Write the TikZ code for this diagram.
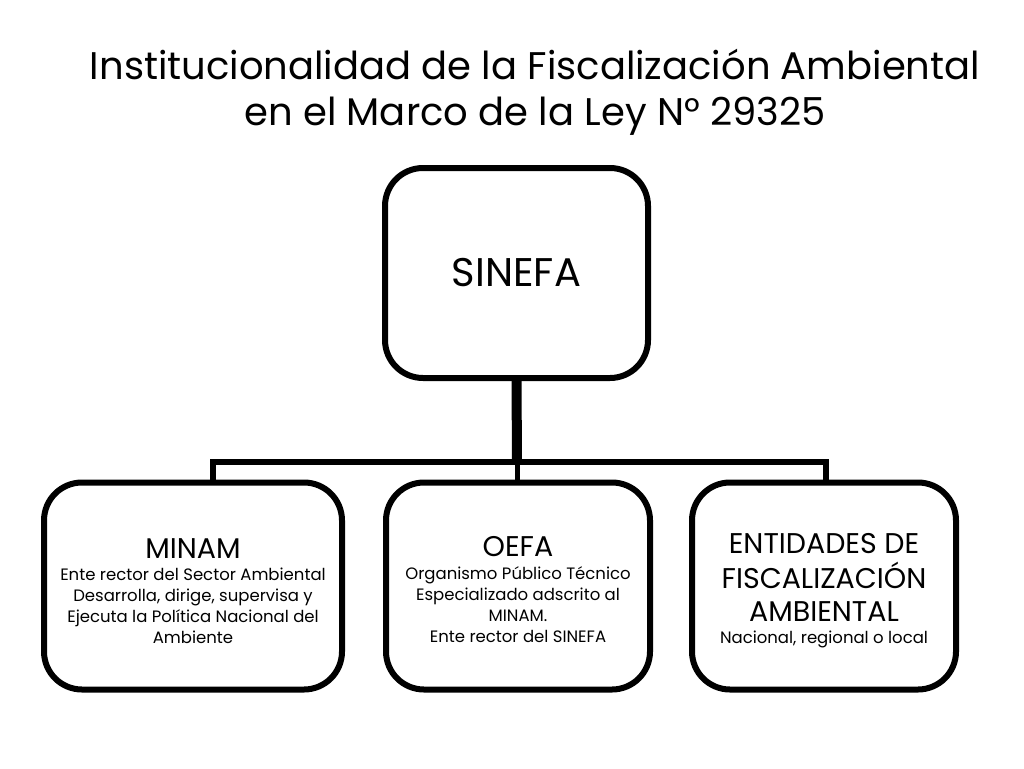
\documentclass[tikz,border=0pt]{standalone}
\usepackage{fontspec}
\setmainfont{Poppins}
\newcommand{\hdsz}{\fontsize{28.5}{33}\selectfont}
\newcommand{\bdsz}{\fontsize{16.5}{21}\selectfont}
\begin{document}
\begin{tikzpicture}[x=1pt,y=-1pt,
  box/.style={draw, line width=6pt, rounded corners=38pt, fill=white, inner sep=0pt},
  txt/.style={align=center, font=\bdsz, inner sep=0pt},
  conn/.style={line width=6pt, line join=miter, line cap=butt}]
\useasboundingbox (0,0) rectangle (1024,768);
\node[font=\fontsize{38.5}{46}\selectfont, align=center] (title) at (535,92)
  {Institucionalidad de la Fiscalización Ambiental\\en el Marco de la Ley N° 29325};
\node[box, minimum width=263pt, minimum height=210pt, font=\fontsize{40}{44}\selectfont] (sinefa) at (516.5,273) {SINEFA};
\node[box, minimum width=298pt, minimum height=207pt] (minam) at (193,586) {};
\node[box, minimum width=264pt, minimum height=207pt] (oefa) at (518,586) {};
\node[box, minimum width=264pt, minimum height=207pt] (ent) at (824,586) {};
\node[txt] (minamtxt) at ([yshift=-5.5pt]minam.center)
  {\hdsz MINAM\\[1pt]
   Ente rector del Sector Ambiental\\Desarrolla, dirige, supervisa y\\Ejecuta la Política Nacional del\\Ambiente};
\node[txt] (oefatxt) at ([yshift=-4pt]oefa.center)
  {\hdsz OEFA\\[2pt]
   Organismo Público Técnico\\Especializado adscrito al\\MINAM.\\Ente rector del SINEFA};
\node[txt] (enttxt) at ([yshift=-4.5pt]ent.center)
  {\hdsz ENTIDADES DE\\[8pt]\hdsz FISCALIZACIÓN\\[12pt]\hdsz AMBIENTAL\\[1pt]
   Nacional, regional o local};
\coordinate (j) at (517,462);
\coordinate (bl) at (213,462);
\coordinate (br) at (826,462);
\draw[conn, line width=10pt] (sinefa.south) -- (j);
\draw[conn] (minam.north -| bl) -- (bl) -- (br) -- (ent.north -| br);
\draw[conn, line width=5pt] (j) -- (oefa.north -| j);
\end{tikzpicture}
\end{document}
